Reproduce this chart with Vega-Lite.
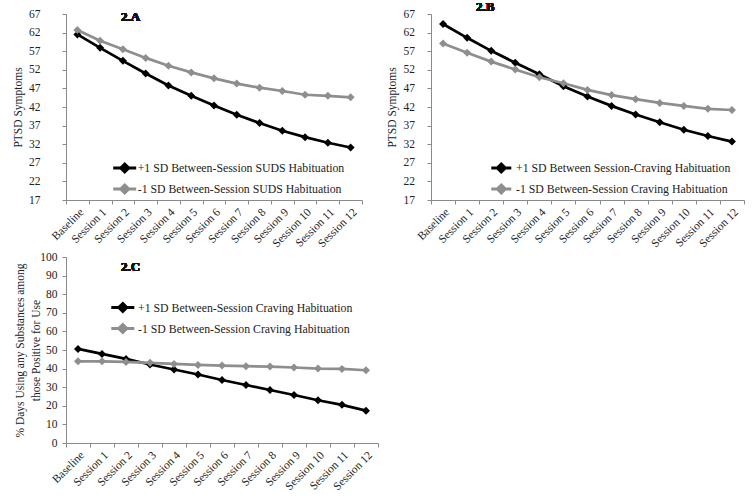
{
  "$schema": "https://vega.github.io/schema/vega-lite/v6.json",
  "background": "white",
  "padding": {"left": 12, "top": 0, "right": 5, "bottom": 5},
  "bounds": "flush",
  "columns": 2,
  "spacing": {"row": 57, "column": 53},
  "resolve": {"scale": {"color": "independent", "y": "independent", "x": "independent"}, "legend": {"color": "independent"}},
  "config": {
    "view": {"stroke": null},
    "axis": {"grid": false, "domainColor": "#8a8a8a", "tickColor": "#8a8a8a", "tickSize": 4, "labelFont": "Liberation Serif", "labelFontSize": 11.5, "labelColor": "#222222", "titleFont": "Liberation Serif", "titleFontSize": 11.5, "titleFontWeight": "normal", "titleColor": "#222222"},
    "axisX": {"labelAngle": -45, "tickBand": "extent", "labelOverlap": false, "labelFontSize": 11.5, "labelPadding": 2, "title": null},
    "legend": {"labelFont": "Liberation Serif", "labelFontSize": 11.8, "labelColor": "#222222", "labelLimit": 0, "padding": 0, "orient": "none", "title": null, "symbolType": "M-2.3,0H2.3M0,-0.8L0.8,0L0,0.8L-0.8,0Z", "symbolSize": 100, "symbolStrokeWidth": 3, "rowPadding": 0}
  },
  "concat": [
    {
      "width": 296, "height": 186,
      "data": {"values": [
        {"s": "Baseline", "g": "+1 SD Between-Session SUDS Habituation", "v": 61.5},
        {"s": "Session 1", "g": "+1 SD Between-Session SUDS Habituation", "v": 57.9},
        {"s": "Session 2", "g": "+1 SD Between-Session SUDS Habituation", "v": 54.4},
        {"s": "Session 3", "g": "+1 SD Between-Session SUDS Habituation", "v": 51.0},
        {"s": "Session 4", "g": "+1 SD Between-Session SUDS Habituation", "v": 47.8},
        {"s": "Session 5", "g": "+1 SD Between-Session SUDS Habituation", "v": 45.0},
        {"s": "Session 6", "g": "+1 SD Between-Session SUDS Habituation", "v": 42.4},
        {"s": "Session 7", "g": "+1 SD Between-Session SUDS Habituation", "v": 39.9},
        {"s": "Session 8", "g": "+1 SD Between-Session SUDS Habituation", "v": 37.7},
        {"s": "Session 9", "g": "+1 SD Between-Session SUDS Habituation", "v": 35.6},
        {"s": "Session 10", "g": "+1 SD Between-Session SUDS Habituation", "v": 33.9},
        {"s": "Session 11", "g": "+1 SD Between-Session SUDS Habituation", "v": 32.4},
        {"s": "Session 12", "g": "+1 SD Between-Session SUDS Habituation", "v": 31.1},
        {"s": "Baseline", "g": "-1 SD Between-Session SUDS Habituation", "v": 62.7},
        {"s": "Session 1", "g": "-1 SD Between-Session SUDS Habituation", "v": 59.8},
        {"s": "Session 2", "g": "-1 SD Between-Session SUDS Habituation", "v": 57.5},
        {"s": "Session 3", "g": "-1 SD Between-Session SUDS Habituation", "v": 55.2},
        {"s": "Session 4", "g": "-1 SD Between-Session SUDS Habituation", "v": 53.1},
        {"s": "Session 5", "g": "-1 SD Between-Session SUDS Habituation", "v": 51.3},
        {"s": "Session 6", "g": "-1 SD Between-Session SUDS Habituation", "v": 49.7},
        {"s": "Session 7", "g": "-1 SD Between-Session SUDS Habituation", "v": 48.3},
        {"s": "Session 8", "g": "-1 SD Between-Session SUDS Habituation", "v": 47.2},
        {"s": "Session 9", "g": "-1 SD Between-Session SUDS Habituation", "v": 46.3},
        {"s": "Session 10", "g": "-1 SD Between-Session SUDS Habituation", "v": 45.3},
        {"s": "Session 11", "g": "-1 SD Between-Session SUDS Habituation", "v": 45.0},
        {"s": "Session 12", "g": "-1 SD Between-Session SUDS Habituation", "v": 44.6}
      ]},
      "encoding": {
        "x": {"field": "s", "type": "nominal", "sort": ["Baseline", "Session 1", "Session 2", "Session 3", "Session 4", "Session 5", "Session 6", "Session 7", "Session 8", "Session 9", "Session 10", "Session 11", "Session 12"], "scale": {"type": "band", "paddingInner": 0, "paddingOuter": 0}},
        "y": {"field": "v", "type": "quantitative", "scale": {"domain": [17, 67], "nice": false, "zero": false}, "axis": {"values": [17, 22, 27, 32, 37, 42, 47, 52, 57, 62, 67], "title": "PTSD Symptoms", "labelPadding": 22, "titleX": -48, "titleY": 93, "titleAlign": "center", "titleBaseline": "middle"}},
        "color": {"field": "g", "type": "nominal", "scale": {"domain": ["+1 SD Between-Session SUDS Habituation", "-1 SD Between-Session SUDS Habituation"], "range": ["#000000", "#8e8e8e"]}, "legend": {"legendX": 52.2, "legendY": 147.5, "labelOffset": 6.5}}
      },
      "layer": [
        {"mark": {"type": "line", "strokeWidth": 2.7}},
        {"mark": {"type": "point", "shape": "diamond", "filled": true, "size": 64, "opacity": 1}},
        {"mark": {"type": "text", "text": "2.A", "font": "Liberation Serif", "fontWeight": "bold", "fontSize": 13, "dx": 7.6},
         "encoding": {"x": {"datum": "Session 2"}, "y": {"datum": 66.1}, "color": {"value": "#111111"}}}
      ]
    },
    {
      "width": 313, "height": 186,
      "data": {"values": [
        {"s": "Baseline", "g": "+1 SD Between Session-Craving Habituation", "v": 64.3},
        {"s": "Session 1", "g": "+1 SD Between Session-Craving Habituation", "v": 60.6},
        {"s": "Session 2", "g": "+1 SD Between Session-Craving Habituation", "v": 57.1},
        {"s": "Session 3", "g": "+1 SD Between Session-Craving Habituation", "v": 53.9},
        {"s": "Session 4", "g": "+1 SD Between Session-Craving Habituation", "v": 50.8},
        {"s": "Session 5", "g": "+1 SD Between Session-Craving Habituation", "v": 47.6},
        {"s": "Session 6", "g": "+1 SD Between Session-Craving Habituation", "v": 44.8},
        {"s": "Session 7", "g": "+1 SD Between Session-Craving Habituation", "v": 42.3},
        {"s": "Session 8", "g": "+1 SD Between Session-Craving Habituation", "v": 40.0},
        {"s": "Session 9", "g": "+1 SD Between Session-Craving Habituation", "v": 37.9},
        {"s": "Session 10", "g": "+1 SD Between Session-Craving Habituation", "v": 35.9},
        {"s": "Session 11", "g": "+1 SD Between Session-Craving Habituation", "v": 34.2},
        {"s": "Session 12", "g": "+1 SD Between Session-Craving Habituation", "v": 32.7},
        {"s": "Baseline", "g": "-1 SD Between-Session Craving Habituation", "v": 59.1},
        {"s": "Session 1", "g": "-1 SD Between-Session Craving Habituation", "v": 56.6},
        {"s": "Session 2", "g": "-1 SD Between-Session Craving Habituation", "v": 54.2},
        {"s": "Session 3", "g": "-1 SD Between-Session Craving Habituation", "v": 52.1},
        {"s": "Session 4", "g": "-1 SD Between-Session Craving Habituation", "v": 50.0},
        {"s": "Session 5", "g": "-1 SD Between-Session Craving Habituation", "v": 48.4},
        {"s": "Session 6", "g": "-1 SD Between-Session Craving Habituation", "v": 46.6},
        {"s": "Session 7", "g": "-1 SD Between-Session Craving Habituation", "v": 45.2},
        {"s": "Session 8", "g": "-1 SD Between-Session Craving Habituation", "v": 44.1},
        {"s": "Session 9", "g": "-1 SD Between-Session Craving Habituation", "v": 43.1},
        {"s": "Session 10", "g": "-1 SD Between-Session Craving Habituation", "v": 42.3},
        {"s": "Session 11", "g": "-1 SD Between-Session Craving Habituation", "v": 41.5},
        {"s": "Session 12", "g": "-1 SD Between-Session Craving Habituation", "v": 41.2}
      ]},
      "encoding": {
        "x": {"field": "s", "type": "nominal", "sort": ["Baseline", "Session 1", "Session 2", "Session 3", "Session 4", "Session 5", "Session 6", "Session 7", "Session 8", "Session 9", "Session 10", "Session 11", "Session 12"], "scale": {"type": "band", "paddingInner": 0, "paddingOuter": 0}},
        "y": {"field": "v", "type": "quantitative", "scale": {"domain": [17, 67], "nice": false, "zero": false}, "axis": {"values": [17, 22, 27, 32, 37, 42, 47, 52, 57, 62, 67], "title": "PTSD Symptoms", "labelPadding": 12.6, "titleX": -38.3, "titleY": 93, "titleAlign": "center", "titleBaseline": "middle"}},
        "color": {"field": "g", "type": "nominal", "scale": {"domain": ["+1 SD Between Session-Craving Habituation", "-1 SD Between-Session Craving Habituation"], "range": ["#000000", "#8e8e8e"]}, "legend": {"legendX": 63.8, "legendY": 147.5, "labelOffset": 8.2, "symbolType": "M-2,0H2M0,-0.8L0.8,0L0,0.8L-0.8,0Z"}}
      },
      "layer": [
        {"mark": {"type": "line", "strokeWidth": 2.7}},
        {"mark": {"type": "point", "shape": "diamond", "filled": true, "size": 64, "opacity": 1}},
        {"mark": {"type": "text", "text": "2.B", "font": "Liberation Serif", "fontWeight": "bold", "fontSize": 13, "dx": -6, "dy": -7.5},
         "encoding": {"x": {"datum": "Session 2"}, "y": {"datum": 67}, "color": {"value": "#111111"}}}
      ]
    },
    {
      "width": 312, "height": 186,
      "data": {"values": [
        {"s": "Baseline", "g": "+1 SD Between-Session Craving Habituation", "v": 50.6},
        {"s": "Session 1", "g": "+1 SD Between-Session Craving Habituation", "v": 47.9},
        {"s": "Session 2", "g": "+1 SD Between-Session Craving Habituation", "v": 45.2},
        {"s": "Session 3", "g": "+1 SD Between-Session Craving Habituation", "v": 42.2},
        {"s": "Session 4", "g": "+1 SD Between-Session Craving Habituation", "v": 39.5},
        {"s": "Session 5", "g": "+1 SD Between-Session Craving Habituation", "v": 36.8},
        {"s": "Session 6", "g": "+1 SD Between-Session Craving Habituation", "v": 33.9},
        {"s": "Session 7", "g": "+1 SD Between-Session Craving Habituation", "v": 31.2},
        {"s": "Session 8", "g": "+1 SD Between-Session Craving Habituation", "v": 28.5},
        {"s": "Session 9", "g": "+1 SD Between-Session Craving Habituation", "v": 25.8},
        {"s": "Session 10", "g": "+1 SD Between-Session Craving Habituation", "v": 23.0},
        {"s": "Session 11", "g": "+1 SD Between-Session Craving Habituation", "v": 20.5},
        {"s": "Session 12", "g": "+1 SD Between-Session Craving Habituation", "v": 17.4},
        {"s": "Baseline", "g": "-1 SD Between-Session Craving Habituation", "v": 43.9},
        {"s": "Session 1", "g": "-1 SD Between-Session Craving Habituation", "v": 43.9},
        {"s": "Session 2", "g": "-1 SD Between-Session Craving Habituation", "v": 43.6},
        {"s": "Session 3", "g": "-1 SD Between-Session Craving Habituation", "v": 43.1},
        {"s": "Session 4", "g": "-1 SD Between-Session Craving Habituation", "v": 42.5},
        {"s": "Session 5", "g": "-1 SD Between-Session Craving Habituation", "v": 42.0},
        {"s": "Session 6", "g": "-1 SD Between-Session Craving Habituation", "v": 41.6},
        {"s": "Session 7", "g": "-1 SD Between-Session Craving Habituation", "v": 41.3},
        {"s": "Session 8", "g": "-1 SD Between-Session Craving Habituation", "v": 41.1},
        {"s": "Session 9", "g": "-1 SD Between-Session Craving Habituation", "v": 40.6},
        {"s": "Session 10", "g": "-1 SD Between-Session Craving Habituation", "v": 40.0},
        {"s": "Session 11", "g": "-1 SD Between-Session Craving Habituation", "v": 39.8},
        {"s": "Session 12", "g": "-1 SD Between-Session Craving Habituation", "v": 39.1}
      ]},
      "encoding": {
        "x": {"field": "s", "type": "nominal", "sort": ["Baseline", "Session 1", "Session 2", "Session 3", "Session 4", "Session 5", "Session 6", "Session 7", "Session 8", "Session 9", "Session 10", "Session 11", "Session 12"], "scale": {"type": "band", "paddingInner": 0, "paddingOuter": 0}},
        "y": {"field": "v", "type": "quantitative", "scale": {"domain": [0, 100], "nice": false}, "axis": {"values": [0, 10, 20, 30, 40, 50, 60, 70, 80, 90, 100], "title": ["% Days Using any Substances among", "those Positive for Use"], "titleLineHeight": 16, "labelPadding": 5, "titleX": -46, "titleY": 93, "titleAlign": "center", "titleBaseline": "middle"}},
        "color": {"field": "g", "type": "nominal", "scale": {"domain": ["+1 SD Between-Session Craving Habituation", "-1 SD Between-Session Craving Habituation"], "range": ["#000000", "#8e8e8e"]}, "legend": {"legendX": 50.3, "legendY": 44, "labelOffset": 8.7}}
      },
      "layer": [
        {"mark": {"type": "line", "strokeWidth": 2.7}},
        {"mark": {"type": "point", "shape": "diamond", "filled": true, "size": 64, "opacity": 1}},
        {"mark": {"type": "text", "text": "2.C", "font": "Liberation Serif", "fontWeight": "bold", "fontSize": 13, "dx": 4.5},
         "encoding": {"x": {"datum": "Session 2"}, "y": {"datum": 94.6}, "color": {"value": "#111111"}}}
      ]
    }
  ]
}
